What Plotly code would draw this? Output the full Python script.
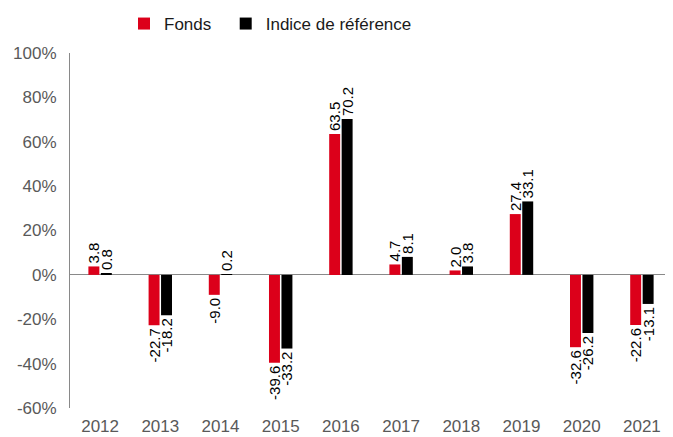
import plotly.graph_objects as go

years = ["2012", "2013", "2014", "2015", "2016", "2017", "2018", "2019", "2020", "2021"]
fonds = [3.8, -22.7, -9.0, -39.6, 63.5, 4.7, 2.0, 27.4, -32.6, -22.6]
indice = [0.8, -18.2, 0.2, -33.2, 70.2, 8.1, 3.8, 33.1, -26.2, -13.1]
y_ticks = [-60, -40, -20, 0, 20, 40, 60, 80, 100]
y_tick_labels = [f"{v}%" for v in y_ticks]

FONT = "Liberation Sans, Arial, sans-serif"

# the page body has an 8px margin, so the figure is sized/offset to compensate
W, H = 665, 429

fig = go.Figure()
for name, vals, color in [("Fonds\u00a0\u00a0", fonds, "#DC001A"), ("Indice de référence", indice, "#000000")]:
    fig.add_trace(go.Bar(
        x=years, y=vals, name=name, marker=dict(color=color, line=dict(width=0)),
        texttemplate="%{y:.1f}", textposition="outside", textangle=-90,
        textfont=dict(family=FONT, size=15, color="#000000"),
        constraintext="none", cliponaxis=False,
    ))

fig.update_layout(
    width=W, height=H,
    margin=dict(l=62, r=1, t=45, b=29, autoexpand=False),
    paper_bgcolor="white", plot_bgcolor="white",
    barmode="group", bargap=0.586, bargroupgap=0.12,
    font=dict(family=FONT, size=17, color="#595959"),
    showlegend=True,
    legend=dict(orientation="h", xref="paper", x=54 / 602, xanchor="left",
                yref="container", y=1 - 16 / H, yanchor="middle",
                font=dict(family=FONT, size=17, color="#1a1a1a"),
                itemwidth=30, traceorder="normal"),
    xaxis=dict(showline=False, ticks="", showgrid=False,
               tickfont=dict(family=FONT, size=17, color="#595959"),
               ticklabelstandoff=6),
    yaxis=dict(range=[-60, 100], tickvals=y_ticks, ticktext=y_tick_labels,
               showgrid=False, showline=True, linecolor="#898989", linewidth=1,
               zeroline=True, zerolinecolor="#898989", zerolinewidth=1,
               ticks="", ticklabelstandoff=9,
               tickfont=dict(family=FONT, size=17, color="#595959")),
)

fig.write_html("out.html")
